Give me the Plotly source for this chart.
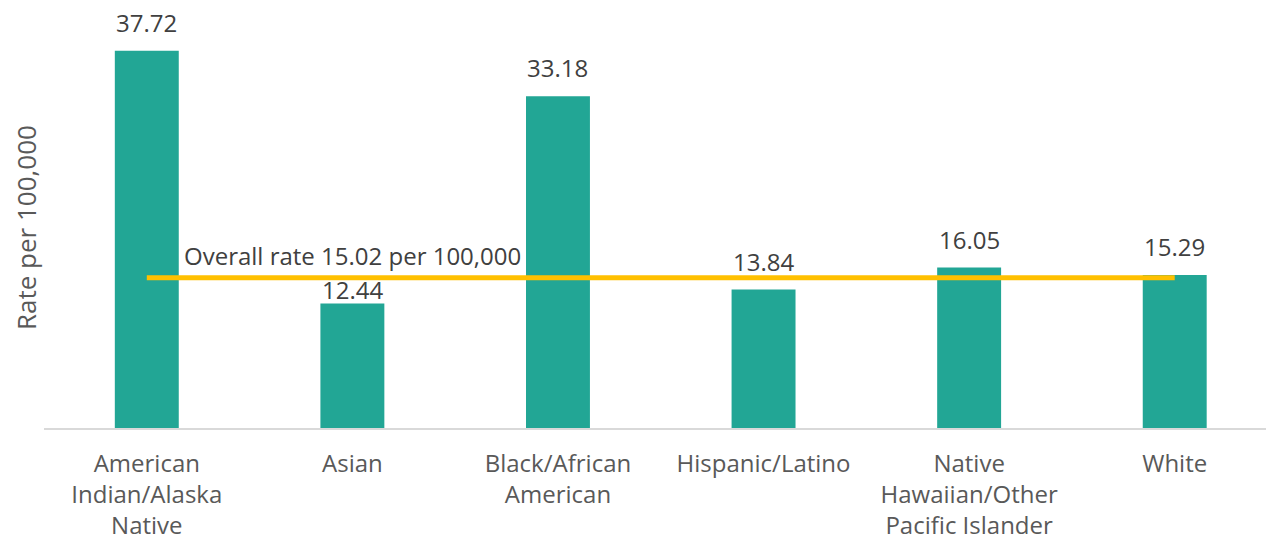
import plotly.graph_objects as go

# Data
categories = [
    "American<br>Indian/Alaska<br>Native",
    "Asian",
    "Black/African<br>American",
    "Hispanic/Latino",
    "Native<br>Hawaiian/Other<br>Pacific Islander",
    "White",
]
rates = [37.72, 12.44, 33.18, 13.84, 16.05, 15.29]
overall_rate = 15.02
overall_label = "Overall rate 15.02 per 100,000"
y_title = "Rate per 100,000"

TEAL = "#22A695"
GOLD = "#FFC000"
VALUE_COLOR = "#404040"
CAT_COLOR = "#595959"
FONT = "Open Sans"

x_idx = list(range(len(categories)))

fig = go.Figure()

fig.add_trace(go.Bar(
    x=x_idx,
    y=rates,
    width=0.311,
    marker=dict(color=TEAL, line=dict(width=0)),
    hoverinfo="skip",
    showlegend=False,
))

# Overall rate reference line from first to last category centre
fig.add_trace(go.Scatter(
    x=[x_idx[0], x_idx[-1]],
    y=[overall_rate, overall_rate],
    mode="lines",
    line=dict(color=GOLD, width=5),
    hoverinfo="skip",
    showlegend=False,
))

# value label that sits under the reference line is tucked down onto its bar
tucked = {1}

annotations = []
for i, v in zip(x_idx, rates):
    annotations.append(dict(
        x=i, y=v, xref="x", yref="y",
        text=f"{v:.2f}",
        showarrow=False,
        yanchor="bottom",
        yshift=-4 if i in tucked else 10,
        font=dict(family=FONT, size=24, color=VALUE_COLOR),
    ))

annotations.append(dict(
    x=1, y=overall_rate, xref="x", yref="y",
    text=overall_label,
    showarrow=False,
    yanchor="bottom",
    yshift=4,
    font=dict(family=FONT, size=24, color=VALUE_COLOR),
))

annotations.append(dict(
    x=0, y=0.5, xref="paper", yref="paper",
    text=y_title,
    textangle=-90,
    showarrow=False,
    xanchor="center",
    xshift=-18,
    font=dict(family=FONT, size=26, color=CAT_COLOR),
))

fig.update_layout(
    width=1266,
    height=537,
    margin=dict(l=44, r=0, t=28, b=109, autoexpand=False),
    paper_bgcolor="white",
    plot_bgcolor="white",
    annotations=annotations,
    xaxis=dict(
        range=[-0.5, 5.444],
        tickmode="array",
        tickvals=x_idx,
        ticktext=categories,
        showgrid=False,
        zeroline=False,
        showline=True,
        linecolor="#D9D9D9",
        linewidth=1.5,
        ticks="",
        automargin=False,
        tickfont=dict(family=FONT, size=24, color=CAT_COLOR),
        ticklabelstandoff=13,
    ),
    yaxis=dict(
        range=[0, 40],
        showgrid=False,
        zeroline=False,
        showticklabels=False,
        showline=False,
        ticks="",
        automargin=False,
    ),
)

fig.write_html("out.html")
